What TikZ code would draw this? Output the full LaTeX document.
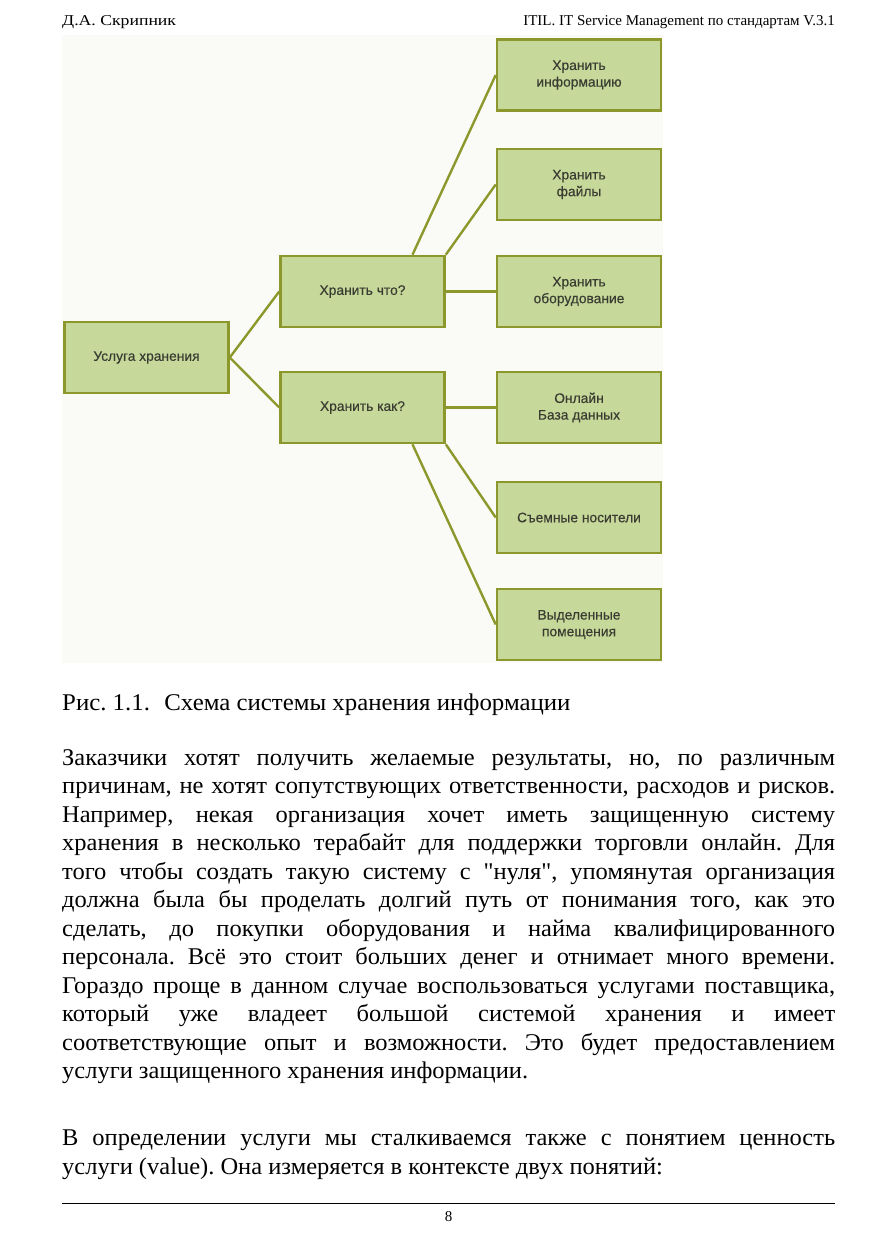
\documentclass[tikz,border=0pt]{standalone}
\usepackage{fontspec}
\setmainfont[Ligatures=TeXOff]{Liberation Serif}
\newfontfamily\bodyfont[Ligatures=TeXOff, FakeStretch=1.02]{Liberation Serif}
\newfontfamily\capfont[Ligatures=TeXOff, FakeStretch=1.035]{Liberation Serif}
\newfontfamily\hdrleftfont[FakeStretch=1.18]{Liberation Serif}
\newfontfamily\boxfont[FakeBold=0.4]{Liberation Sans}
\usetikzlibrary{calc}
\definecolor{boxfill}{HTML}{C6D89A}
\definecolor{olivec}{HTML}{8C982C}
\definecolor{boxtext}{HTML}{3A3C32}
\definecolor{diagbg}{HTML}{FAFBF7}
\tikzset{
  x=1pt, y=-1pt,
  box/.style={draw=olivec, line width=2.6pt, fill=boxfill, minimum width=164pt, minimum height=71pt,
    inner sep=2pt, align=center, text=boxtext, font=\boxfont\fontsize{13.8}{16.7}\selectfont},
  conn/.style={draw=olivec, line width=2.4pt},
  body/.style={anchor=base west, inner sep=0pt, font=\bodyfont\fontsize{24}{28.5}\selectfont},
  hdr/.style={inner sep=0pt, font=\fontsize{15}{18}\selectfont},
}
\newcommand{\jline}[1]{\makebox[773pt][s]{#1}}
\frenchspacing
\begin{document}
\begin{tikzpicture}
\useasboundingbox (0,0) rectangle (877,1241);
\fill[white] (0,0) rectangle (877,1241);
% header
\node[hdr, anchor=base west] (hl) at (62,26) {\hdrleftfont Д.А. Скрипник};
\node[hdr, anchor=base east] (hr) at (835,26) {ITIL. IT Service Management по стандартам V.3.1};
% diagram background
\fill[diagbg] (62,35) rectangle (663,663);
% boxes
\node[box] (root) at (146.5,357.5) {Услуга хранения};
\node[box] (what) at (362.5,291.5) {Хранить что?};
\node[box] (how) at (362.5,407.5) {Хранить как?};
\node[box] (info) at (579,75) {Хранить\\информацию};
\node[box] (files) at (579,184.5) {Хранить\\файлы};
\node[box] (equip) at (579,291.5) {Хранить\\оборудование};
\node[box] (online) at (579,407.5) {Онлайн\\База данных};
\node[box] (media) at (579,517.5) {Съемные носители};
\node[box] (rooms) at (579,624.5) {Выделенные\\помещения};
% connectors
\draw[conn] (root.east) -- (what.west);
\draw[conn] (root.east) -- (how.west);
\draw[conn] ($(what.north west)!0.8!(what.north east)$) -- (info.west);
\draw[conn] (what.north east) -- (files.west);
\draw[conn] (what.east) -- (equip.west);
\draw[conn] (how.east) -- (online.west);
\draw[conn] (how.south east) -- (media.west);
\draw[conn] ($(how.south west)!0.8!(how.south east)$) -- (rooms.west);
% redraw boxes over line ends
\node[box] at (root) {Услуга хранения};
\node[box] at (what) {Хранить что?};
\node[box] at (how) {Хранить как?};
\node[box] at (info) {Хранить\\информацию};
\node[box] at (files) {Хранить\\файлы};
\node[box] at (equip) {Хранить\\оборудование};
\node[box] at (online) {Онлайн\\База данных};
\node[box] at (media) {Съемные носители};
\node[box] at (rooms) {Выделенные\\помещения};
% caption
\node[body] (cap) at (62,710) {\capfont Рис. 1.1.\hspace{0.6em}Схема системы хранения информации};
% paragraph 1
\node[body] (p1) at (62,765) {\jline{Заказчики хотят получить желаемые результаты, но, по различным}};
\node[body] (p2) at (62,793.5) {\jline{причинам, не хотят сопутствующих ответственности, расходов и рисков.}};
\node[body] (p3) at (62,822) {\jline{Например, некая организация хочет иметь защищенную систему}};
\node[body] (p4) at (62,850.5) {\jline{хранения в несколько терабайт для поддержки торговли онлайн. Для}};
\node[body] (p5) at (62,879) {\jline{того чтобы создать такую систему с "нуля", упомянутая организация}};
\node[body] (p6) at (62,907.5) {\jline{должна была бы проделать долгий путь от понимания того, как это}};
\node[body] (p7) at (62,936) {\jline{сделать, до покупки оборудования и найма квалифицированного}};
\node[body] (p8) at (62,964.5) {\jline{персонала. Всё это стоит больших денег и отнимает много времени.}};
\node[body] (p9) at (62,993) {\jline{Гораздо проще в данном случае воспользоваться услугами поставщика,}};
\node[body] (p10) at (62,1021.5) {\jline{который уже владеет большой системой хранения и имеет}};
\node[body] (p11) at (62,1050) {\jline{соответствующие опыт и возможности. Это будет предоставлением}};
\node[body] (p12) at (62,1078.5) {услуги защищенного хранения информации.};
% paragraph 2
\node[body] (q1) at (62,1145.5) {\jline{В определении услуги мы сталкиваемся также с понятием ценность}};
\node[body] (q2) at (62,1174) {услуги (value). Она измеряется в контексте двух понятий:};
% footer
\coordinate (fl) at (62,1203);
\coordinate (fr) at (835,1203);
\draw[line width=0.9pt] (fl) -- (fr);
\node[hdr, anchor=base] (pg) at (448.5,1221) {8};
\end{tikzpicture}
\end{document}
